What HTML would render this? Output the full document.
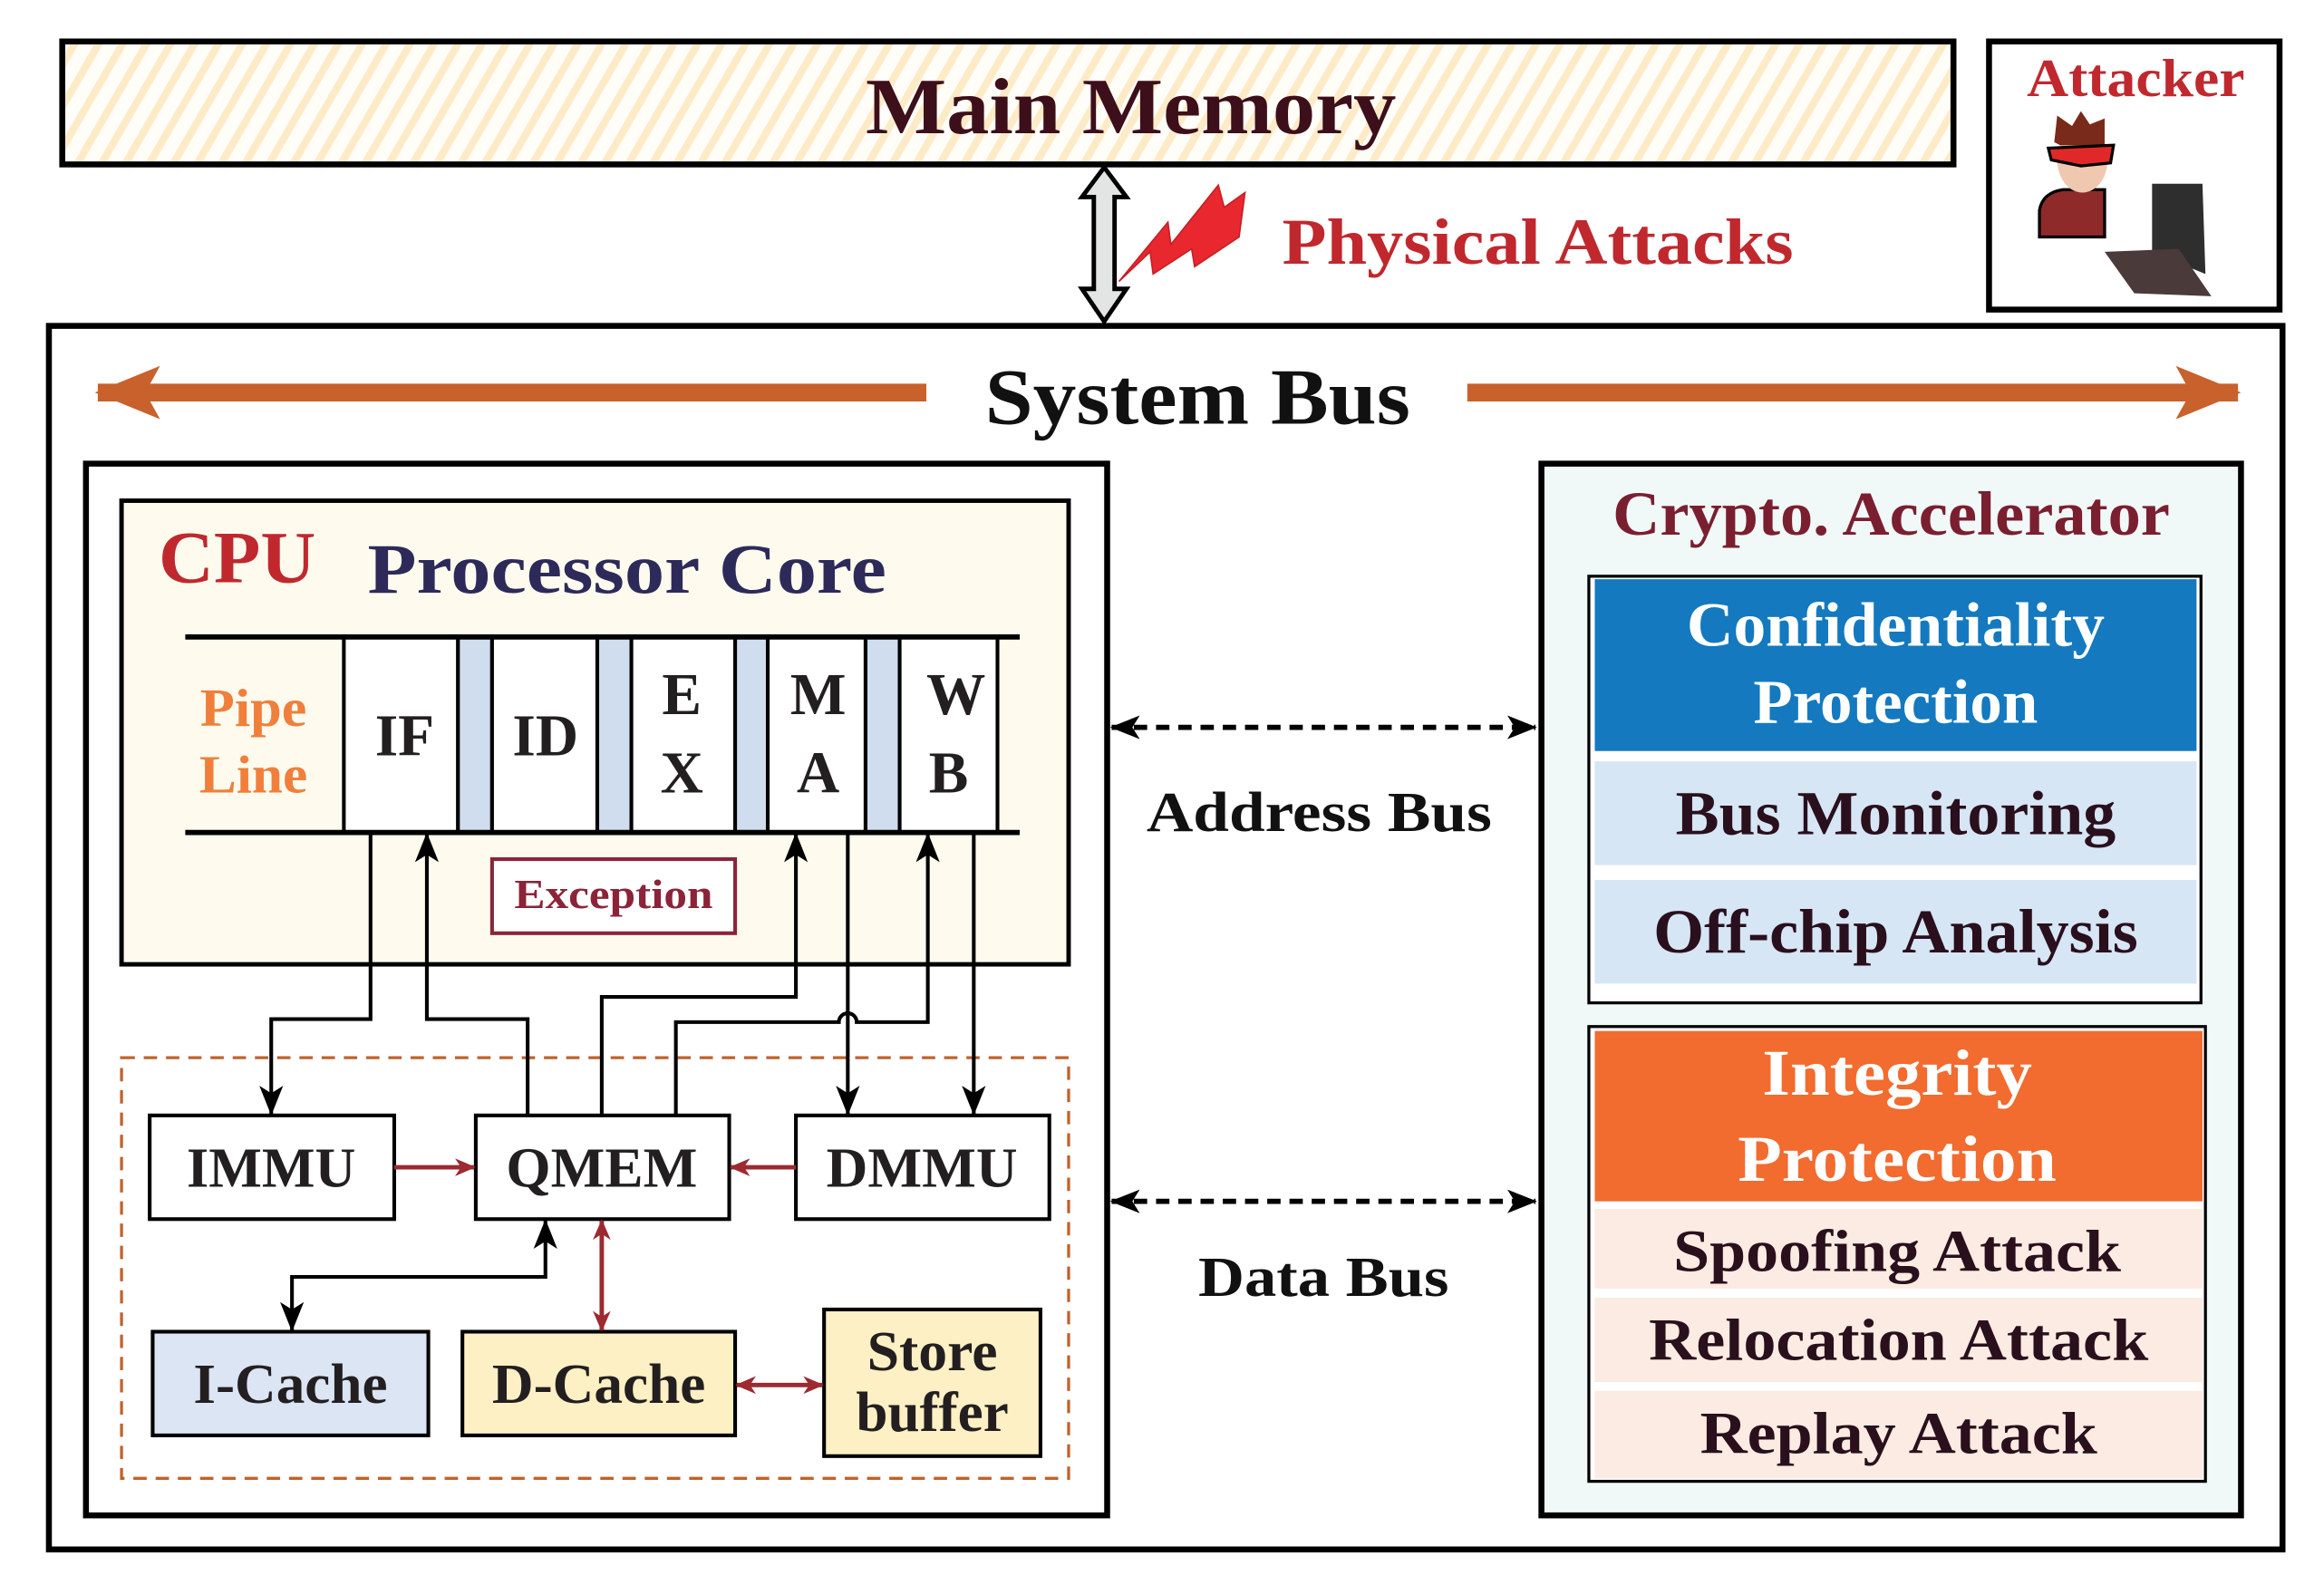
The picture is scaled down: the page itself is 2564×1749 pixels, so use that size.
<!DOCTYPE html>
<html><head><meta charset="utf-8"><style>
html,body{margin:0;padding:0;background:#fff;}
svg{display:block;}
text{font-family:"Liberation Serif",serif;font-weight:bold;}
</style></head><body>
<svg width="2564" height="1749" viewBox="0 0 1568 1070" preserveAspectRatio="none" xmlns="http://www.w3.org/2000/svg">
<defs>
<pattern id="hatch" width="14" height="14" patternUnits="userSpaceOnUse" patternTransform="rotate(30)">
<rect width="14" height="14" fill="#fffdf8"/><rect width="5" height="14" fill="#fdebc8"/>
</pattern>
<marker id="big" markerWidth="20" markerHeight="20" refX="19" refY="10" orient="auto" markerUnits="userSpaceOnUse" viewBox="0 0 20 20"><path d="M0,2 L20,10 L0,18 L5,10 Z" fill="#000"/></marker>
<marker id="bigs" markerWidth="20" markerHeight="20" refX="1" refY="10" orient="auto" markerUnits="userSpaceOnUse" viewBox="0 0 20 20"><path d="M20,2 L0,10 L20,18 L15,10 Z" fill="#000"/></marker>
<marker id="rb" markerWidth="14" markerHeight="14" refX="13" refY="7" orient="auto" markerUnits="userSpaceOnUse" viewBox="0 0 14 14"><path d="M0,1 L14,7 L0,13 L4,7 Z" fill="#9c2a30"/></marker>
<marker id="rbs" markerWidth="14" markerHeight="14" refX="1" refY="7" orient="auto" markerUnits="userSpaceOnUse" viewBox="0 0 14 14"><path d="M14,1 L0,7 L14,13 L10,7 Z" fill="#9c2a30"/></marker>
<marker id="ob" markerWidth="44" markerHeight="40" refX="42" refY="20" orient="auto" markerUnits="userSpaceOnUse" viewBox="0 0 44 40"><path d="M0,2 L44,20 L0,38 L10,20 Z" fill="#c8612c"/></marker>
</defs>

<rect x="42" y="28" width="1276" height="83" fill="url(#hatch)" stroke="#000" stroke-width="4"/>
<text x="763" y="90" font-size="54" fill="#3d0f1a" text-anchor="middle" textLength="358" lengthAdjust="spacingAndGlyphs">Main Memory</text>

<rect x="1342" y="28" width="196" height="181" fill="#fff" stroke="#000" stroke-width="4"/>
<text x="1441" y="65" font-size="36" fill="#c0282e" text-anchor="middle" textLength="147" lengthAdjust="spacingAndGlyphs">Attacker</text>
<path d="M1376,160 L1376,142 Q1378,130 1392,128 L1420,128 L1420,160 Z" fill="#8e2a2a" stroke="#000" stroke-width="2"/>
<ellipse cx="1405" cy="108" rx="17" ry="22" fill="#f0c8b0"/>
<path d="M1386,96 L1388,78 L1398,85 L1404,75 L1410,84 L1420,80 L1420,98 L1390,98 Z" fill="#7a2a1a"/>
<path d="M1382,100 L1426,98 L1424,110 L1404,112 L1384,108 Z" fill="#e02828" stroke="#000" stroke-width="2"/>
<path d="M1452,124 L1486,124 L1488,185 L1452,170 Z" fill="#2e2e2e"/>
<path d="M1420,170 L1470,168 L1492,200 L1440,198 Z" fill="#4a3a3a"/>

<path d="M745,113 L760,133 L752,133 L752,195 L760,195 L745,217 L730,195 L738,195 L738,133 L730,133 Z" fill="#e3e4e4" stroke="#000" stroke-width="3"/>
<path d="M755,190 L788,150 L790,165 L822,125 L826,140 L840,130 L836,160 L806,180 L804,168 L778,185 L776,170 Z" fill="#e8282e" stroke="#c42026" stroke-width="1"/>
<text x="865" y="178" font-size="44" fill="#c0282e" textLength="345" lengthAdjust="spacingAndGlyphs">Physical Attacks</text>

<rect x="33" y="220" width="1507" height="826" fill="#fff" stroke="#000" stroke-width="4"/>
<line x1="625" y1="265" x2="66" y2="265" stroke="#c8612c" stroke-width="12" marker-end="url(#ob)"/>
<line x1="990" y1="265" x2="1510" y2="265" stroke="#c8612c" stroke-width="12" marker-end="url(#ob)"/>
<text x="808" y="286" font-size="54" fill="#111" text-anchor="middle" textLength="287" lengthAdjust="spacingAndGlyphs">System Bus</text>

<rect x="58" y="313" width="689" height="710" fill="#fff" stroke="#000" stroke-width="4"/>
<rect x="82" y="338" width="639" height="313" fill="#fefbee" stroke="#000" stroke-width="3"/>
<text x="107" y="393" font-size="50" fill="#c0282e" textLength="106" lengthAdjust="spacingAndGlyphs">CPU</text>
<text x="248" y="400" font-size="48" fill="#2d2a5a" textLength="350" lengthAdjust="spacingAndGlyphs">Processor Core</text>

<g stroke="#000" stroke-width="2.5">
<rect x="232" y="430" width="77" height="132" fill="#fff"/>
<rect x="309" y="430" width="23" height="132" fill="#cfddef"/>
<rect x="332" y="430" width="71" height="132" fill="#fff"/>
<rect x="403" y="430" width="23" height="132" fill="#cfddef"/>
<rect x="426" y="430" width="70" height="132" fill="#fff"/>
<rect x="496" y="430" width="22" height="132" fill="#cfddef"/>
<rect x="518" y="430" width="66" height="132" fill="#fff"/>
<rect x="584" y="430" width="23" height="132" fill="#cfddef"/>
<rect x="607" y="430" width="66" height="132" fill="#fff"/>
</g>
<line x1="125" y1="430" x2="688" y2="430" stroke="#000" stroke-width="3.5"/>
<line x1="125" y1="562" x2="688" y2="562" stroke="#000" stroke-width="3.5"/>
<text x="171" y="490" font-size="36" fill="#f07f3c" text-anchor="middle" textLength="72" lengthAdjust="spacingAndGlyphs">Pipe</text>
<text x="171" y="535" font-size="36" fill="#f07f3c" text-anchor="middle" textLength="73" lengthAdjust="spacingAndGlyphs">Line</text>
<g font-size="40" fill="#231f20" text-anchor="middle">
<text x="273" y="510">IF</text>
<text x="368" y="510">ID</text>
<text x="460" y="482">E</text><text x="460" y="535">X</text>
<text x="552" y="482">M</text><text x="552" y="535">A</text>
<text x="645" y="482">W</text><text x="640" y="535">B</text>
</g>
<rect x="332" y="580" width="164" height="50" fill="#fff" stroke="#8b2439" stroke-width="2.5"/>
<text x="414" y="613" font-size="28" fill="#8b2439" text-anchor="middle" textLength="134" lengthAdjust="spacingAndGlyphs">Exception</text>

<rect x="82" y="714" width="639" height="284" fill="none" stroke="#c0622c" stroke-width="2" stroke-dasharray="9,6"/>

<g fill="none" stroke="#000" stroke-width="2.5">
<polyline points="250,562 250,688 183,688 183,752" marker-end="url(#big)"/>
<polyline points="356,753 356,688 288,688 288,563" marker-end="url(#big)"/>
<polyline points="406,753 406,673 537,673 537,563" marker-end="url(#big)"/>
<path d="M456,753 L456,690 L566,690 A6,6 0 0 1 578,690 L626,690 L626,563" marker-end="url(#big)"/>
<polyline points="572,562 572,752" marker-end="url(#big)"/>
<polyline points="657,562 657,752" marker-end="url(#big)"/>
<polyline points="368,824 368,862 197,862 197,898" marker-start="url(#bigs)" marker-end="url(#big)"/>
</g>

<g fill="#fff" stroke="#000" stroke-width="2.5">
<rect x="101" y="753" width="165" height="70"/>
<rect x="321" y="753" width="171" height="70"/>
<rect x="537" y="753" width="171" height="70"/>
<rect x="103" y="899" width="186" height="70" fill="#dbe5f4"/>
<rect x="312" y="899" width="184" height="70" fill="#fdf0c4"/>
<rect x="556" y="884" width="146" height="99" fill="#fdf0c4"/>
</g>
<g font-size="38" fill="#231f20" text-anchor="middle">
<text x="183" y="801" textLength="114" lengthAdjust="spacingAndGlyphs">IMMU</text>
<text x="406" y="801" textLength="129" lengthAdjust="spacingAndGlyphs">QMEM</text>
<text x="622" y="801" textLength="129" lengthAdjust="spacingAndGlyphs">DMMU</text>
<text x="196" y="947" textLength="131" lengthAdjust="spacingAndGlyphs">I-Cache</text>
<text x="404" y="947" textLength="144" lengthAdjust="spacingAndGlyphs">D-Cache</text>
<text x="629" y="925" textLength="88" lengthAdjust="spacingAndGlyphs">Store</text>
<text x="629" y="966" textLength="103" lengthAdjust="spacingAndGlyphs">buffer</text>
</g>
<g stroke="#9c2a30" stroke-width="3" fill="none">
<line x1="266" y1="788" x2="320" y2="788" marker-end="url(#rb)"/>
<line x1="537" y1="788" x2="493" y2="788" marker-end="url(#rb)"/>
<line x1="406" y1="824" x2="406" y2="898" marker-start="url(#rbs)" marker-end="url(#rb)"/>
<line x1="497" y1="935" x2="555" y2="935" marker-start="url(#rbs)" marker-end="url(#rb)"/>
</g>

<line x1="750" y1="491" x2="1036" y2="491" stroke="#000" stroke-width="3.5" stroke-dasharray="9,6" marker-start="url(#bigs)" marker-end="url(#big)"/>
<line x1="750" y1="811" x2="1036" y2="811" stroke="#000" stroke-width="3.5" stroke-dasharray="9,6" marker-start="url(#bigs)" marker-end="url(#big)"/>
<text x="890" y="561" font-size="38" fill="#111" text-anchor="middle" textLength="233" lengthAdjust="spacingAndGlyphs">Address Bus</text>
<text x="893" y="875" font-size="38" fill="#111" text-anchor="middle" textLength="169" lengthAdjust="spacingAndGlyphs">Data Bus</text>

<rect x="1040" y="313" width="472" height="710" fill="#f1f8f8" stroke="#000" stroke-width="4"/>
<text x="1276" y="361" font-size="42" fill="#7a1f30" text-anchor="middle" textLength="376" lengthAdjust="spacingAndGlyphs">Crypto. Accelerator</text>
<rect x="1072" y="389" width="413" height="288" fill="#fff" stroke="#000" stroke-width="2"/>
<rect x="1076" y="391" width="406" height="116" fill="#1479bf"/>
<rect x="1076" y="514" width="406" height="70" fill="#d6e6f5"/>
<rect x="1076" y="594" width="406" height="70" fill="#d6e6f5"/>
<text x="1279" y="436" font-size="42" fill="#fff" text-anchor="middle" textLength="282" lengthAdjust="spacingAndGlyphs">Confidentiality</text>
<text x="1279" y="488" font-size="42" fill="#fff" text-anchor="middle" textLength="192" lengthAdjust="spacingAndGlyphs">Protection</text>
<text x="1279" y="563" font-size="42" fill="#2a0f1c" text-anchor="middle" textLength="297" lengthAdjust="spacingAndGlyphs">Bus Monitoring</text>
<text x="1279" y="643" font-size="42" fill="#2a0f1c" text-anchor="middle" textLength="327" lengthAdjust="spacingAndGlyphs">Off-chip Analysis</text>

<rect x="1072" y="693" width="416" height="307" fill="#fff" stroke="#000" stroke-width="2"/>
<rect x="1076" y="696" width="410" height="115" fill="#f26b2f"/>
<rect x="1076" y="816" width="410" height="54" fill="#fbebe2"/>
<rect x="1076" y="876" width="410" height="57" fill="#fbebe2"/>
<rect x="1076" y="939" width="410" height="59" fill="#fbebe2"/>
<text x="1280" y="739" font-size="44" fill="#fff" text-anchor="middle" textLength="182" lengthAdjust="spacingAndGlyphs">Integrity</text>
<text x="1280" y="797" font-size="44" fill="#fff" text-anchor="middle" textLength="215" lengthAdjust="spacingAndGlyphs">Protection</text>
<text x="1280" y="858" font-size="40" fill="#2a0f1c" text-anchor="middle" textLength="302" lengthAdjust="spacingAndGlyphs">Spoofing Attack</text>
<text x="1281" y="918" font-size="40" fill="#2a0f1c" text-anchor="middle" textLength="337" lengthAdjust="spacingAndGlyphs">Relocation Attack</text>
<text x="1281" y="981" font-size="40" fill="#2a0f1c" text-anchor="middle" textLength="268" lengthAdjust="spacingAndGlyphs">Replay Attack</text>
</svg>
</body></html>
